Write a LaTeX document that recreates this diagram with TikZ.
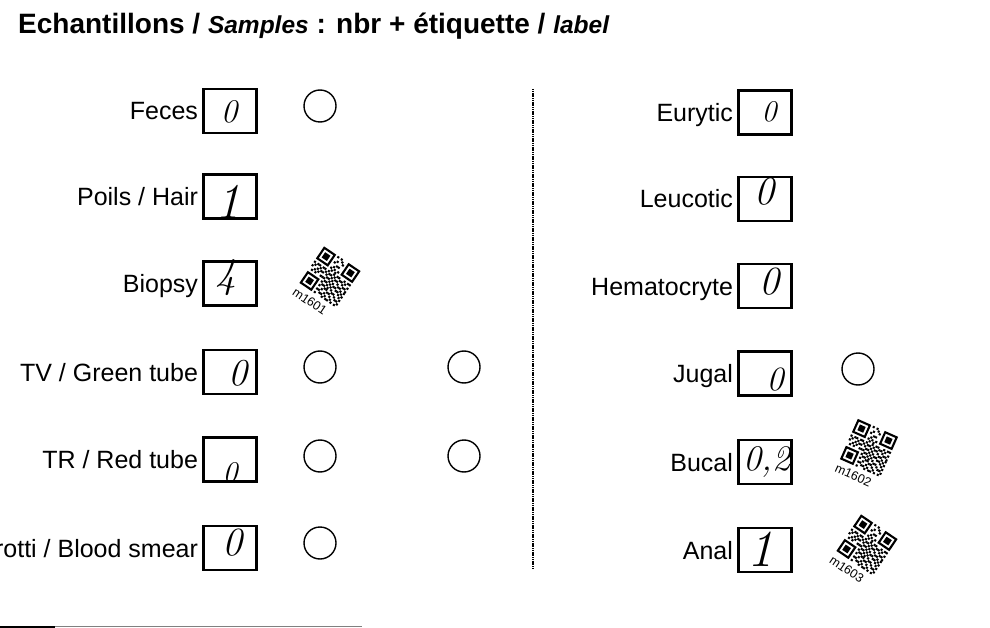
\documentclass[tikz,border=0pt]{standalone}
\usepackage{fontspec}
\usepackage{tikz}
\usetikzlibrary{positioning}
\newfontfamily\formfont{Liberation Sans}

\tikzset{
  sample/.style={draw, line width=2.7pt, minimum width=53pt, minimum height=44pt, inner sep=0pt},
  tag/.style={font=\formfont\fontsize{25}{25}\selectfont, inner sep=0pt, text height=18pt, text depth=0pt},
  hand/.style={font=\itshape\fontsize{#1}{#1}\selectfont, inner sep=0pt},
  tick/.style={line width=1.4pt},
  qr/.pic={
    \begin{scope}[x=2.1pt, y=-2.1pt, shift={(-10.5,-10.5)}]
      \foreach \c/\r in {0/0,14/0,0/14}{
        \draw[line width=2.1pt] (\c+0.5,\r+0.5) rectangle ++(6,6);
        \fill (\c+2,\r+2) rectangle ++(3,3);
      }
      \foreach \i/\j in {8/0,10/0,11/1,9/2,12/2,8/3,10/4,11/4,9/5,12/6,8/6,10/6,9/7,11/7,
          0/8,2/8,3/8,5/8,6/8,8/8,11/8,13/8,14/8,17/8,19/8,20/8,
          1/9,4/9,7/9,9/9,10/9,12/9,15/9,16/9,18/9,
          0/10,3/10,5/10,6/10,8/10,11/10,13/10,14/10,17/10,20/10,
          2/11,4/11,9/11,10/11,12/11,15/11,18/11,19/11,
          1/12,3/12,6/12,7/12,8/12,11/12,13/12,16/12,17/12,20/12,
          9/13,10/13,12/13,14/13,15/13,18/13,20/13,
          8/14,11/14,13/14,16/14,17/14,19/14,
          9/15,10/15,12/15,14/15,18/15,20/15,
          8/16,11/16,12/16,15/16,16/16,19/16,
          10/17,13/17,14/17,17/17,20/17,
          8/18,9/18,12/18,15/18,18/18,19/18,
          10/19,11/19,13/19,16/19,20/19,
          8/20,12/20,14/20,15/20,17/20,19/20}
        \fill (\i,\j) rectangle ++(1,1);
      \node[transform shape, inner sep=0pt, font=\formfont\fontsize{12.5}{12.5}\selectfont] (-id) at (9,25.5) {#1};
    \end{scope}
  }
}

\begin{document}
\begin{tikzpicture}[x=1pt, y=-1pt]

            \useasboundingbox (0,0) rectangle (990,628);

            \node[anchor=base west, inner sep=0pt, font=\formfont\bfseries\fontsize{28}{28}\selectfont] (title) at (18,34)
                {Echantillons / {\fontsize{24.5}{24.5}\selectfont\itshape Samples}\ : nbr + étiquette / {\fontsize{24.5}{24.5}\selectfont\itshape label}};

            % left column
            \node[sample] (feces) at (230,111) {};
            \node[sample] (hair) at (230,196.5) {};
            \node[sample] (biopsy) at (230,283.5) {};
            \node[sample] (green) at (230,372) {};
            \node[sample] (red) at (230,459.5) {};
            \node[sample] (smear) at (230,548) {};

            \node[tag, left=4pt of feces] (fecest) {Feces};
            \node[tag, left=4pt of hair] (hairt) {Poils / Hair};
            \node[tag, left=4pt of biopsy] (biopsyt) {Biopsy};
            \node[tag, left=4pt of green] (greent) {TV / Green tube};
            \node[tag, left=4pt of red] (redt) {TR / Red tube};
            \node[tag, left=4pt of smear] (smeart) {Frotti / Blood smear};

            \node[hand=33] (fecesn) at (229,112) {0};
            \node[hand=50] (hairn) at (228,202) {1};
            \node[hand=42] (biopsyn) at (226,278) {4};
            \node[hand=38] (greenn) at (238,373) {0};
            \node[hand=30] (redn) at (230,473) {0};
            \node[hand=40] (smearn) at (232,543) {0};

            \draw[tick] (320,106) circle[radius=16pt];
            \draw[tick] (320,367) circle[radius=16pt];
            \draw[tick] (464,367) circle[radius=16pt];
            \draw[tick] (320,456) circle[radius=16pt];
            \draw[tick] (464,456) circle[radius=16pt];
            \draw[tick] (320,543) circle[radius=16pt];

            \pic[rotate=-34] (qrbiopsy) at (330,277) {qr=m1601};

            \draw[line width=1.3pt, dash pattern=on 1.2pt off 0.6pt] (533,89) -- (533,568);

            % right column
            \node[sample] (eurytic) at (765,112.5) {};
            \node[sample] (leucotic) at (765,199) {};
            \node[sample] (hemato) at (765,286) {};
            \node[sample] (jugal) at (765,373.5) {};
            \node[sample] (bucal) at (765,462) {};
            \node[sample] (anal) at (765,550) {};

            \node[tag, left=4pt of eurytic] (euryt) {Eurytic};
            \node[tag, left=4pt of leucotic] (leucot) {Leucotic};
            \node[tag, left=4pt of hemato] (hematot) {Hematocryte};
            \node[tag, left=4pt of jugal] (jugalt) {Jugal};
            \node[tag, left=4pt of bucal] (bucalt) {Bucal};
            \node[tag, left=4pt of anal] (analt) {Anal};

            \node[hand=30] (euryn) at (769,112) {0};
            \node[hand=40] (leucon) at (764,192) {0};
            \node[hand=40] (hematon) at (769,282) {0};
            \node[hand=34] (jugaln) at (775,380) {0};
            \node[hand=36] (bucaln) at (767,462) {0,2};
            \node[hand=52] (analn) at (760,549) {1};

            \draw[tick] (858,369) circle[radius=16pt];

            \pic[rotate=-24] (qrbucal) at (869,448) {qr=m1602};
            \pic[rotate=-34] (qranal) at (867,545) {qr=m1603};

            \draw[line width=2pt] (0,626.5) -- (55,626.5);
            \draw[line width=1.5pt, gray] (55,626.5) -- (362,626.5);

\end{tikzpicture}
\end{document}
